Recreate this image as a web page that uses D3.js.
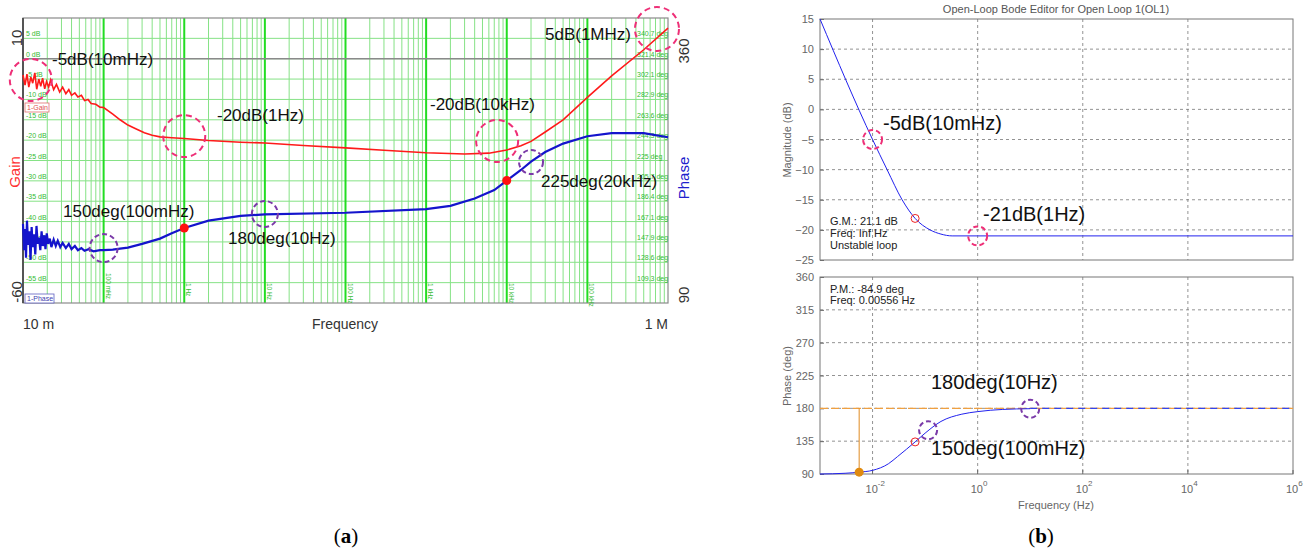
<!DOCTYPE html>
<html>
<head>
<meta charset="utf-8">
<script src="https://cdn.jsdelivr.net/npm/d3@7"></script>
<style>
body { margin: 0; background: #fff; }
svg { display: block; font-family: "Liberation Sans", Arial, sans-serif; }
</style>
</head>
<body>
<div id="chart"></div>
<script>
// ---------- data, panel (a): measured loop ----------
const gainFreq = [0.0100, 0.0106, 0.0112, 0.0118, 0.0125, 0.0132, 0.0140, 0.0148, 0.0157, 0.0166, 0.0175, 0.0186,
  0.0196, 0.0208, 0.0220, 0.0240, 0.0260, 0.0285, 0.031, 0.034, 0.037, 0.040, 0.044, 0.048, 0.053, 0.058, 0.064,
  0.070, 0.080, 0.090, 0.10, 0.13, 0.16, 0.20, 0.25, 0.32, 0.40, 0.50, 0.70, 1, 2, 5, 10, 30, 100, 300, 1000, 3000,
  6000, 10000, 15000, 20000, 30000, 50000, 100000, 200000, 500000, 1000000];
const gainDb = [-4.0, -6.5, -3.8, -7.0, -4.5, -6.0, -3.5, -7.5, -5.0, -6.8, -4.8, -7.4,
  -5.6, -7.0, -5.2, -7.6, -6.3, -8.2, -7.0, -8.6, -7.6, -9.0, -8.4, -9.4, -9.0, -10.3, -10.0,
  -11.0, -11.2, -11.9, -12.0, -13.6, -15.0, -16.3, -17.2, -18.2, -18.8, -19.2, -19.4, -19.6, -20.1, -20.5, -20.7,
  -21.3, -21.9, -22.5, -23.1, -23.4, -23.2, -22.4, -21.4, -20.3, -18.0, -15.0, -9.5, -4.2, 2.2, 7.5];

const phaseFreq = [0.0100, 0.0103, 0.0106, 0.0109, 0.0112, 0.0116, 0.0120, 0.0124, 0.0128, 0.0132, 0.0137, 0.0142,
  0.0147, 0.0152, 0.0158, 0.0164, 0.0170, 0.0176, 0.0183, 0.0190, 0.0197, 0.0205, 0.0215, 0.0225, 0.0240, 0.0255,
  0.0270, 0.0290, 0.031, 0.034, 0.037, 0.040, 0.044, 0.048, 0.053, 0.058, 0.065, 0.075, 0.09, 0.10, 0.13, 0.16,
  0.20, 0.30, 0.50, 0.70, 1, 2, 5, 10, 100, 1000, 2000, 4000, 7000, 10000, 15000, 20000, 30000, 50000, 100000,
  200000, 500000, 1000000];
const phaseDeg = [165, 140, 160, 133, 168, 145, 158, 131, 162, 143, 155, 136,
  163, 146, 152, 140, 158, 144, 154, 141, 156, 146, 151, 143, 150, 144,
  149, 143, 147, 142, 146, 141, 144, 140, 142, 139.5, 141, 139, 140, 140, 140.5, 141.5,
  142.5, 146, 151, 156, 161, 168, 172.5, 174, 175.5, 179, 182, 189, 197, 206, 216, 224, 233, 241, 248,
  251, 251, 247];

const decadeLabels = ['100 mHz', '1 Hz', '10 Hz', '100 Hz', '1 kHz', '10 kHz', '100 kHz'];
const dbTicks = [5, 0, -5, -10, -15, -20, -25, -30, -35, -40, -45, -50, -55];
const degTicks = ['340.7', '321.4', '302.1', '282.9', '263.6', '244.3', '225', '205.7', '186.4', '167.1', '147.9', '128.6', '109.3'];

// annotations on (a): [freq, value, label]
const gainNotes = [[0.0125, -5.2, '-5dB(10mHz)'], [1, -19, '-20dB(1Hz)'], [7600, -20.2, '-20dB(10kHz)'], [730000, 7.3, '5dB(1MHz)']];
const phaseNotes = [[0.1, 142, '150deg(100mHz)'], [10, 174.3, '180deg(10Hz)'], [20000, 223.6, '225deg(20kHz)']];
const phaseDots = [[1, 161], [10000, 206]];

// ---------- data, panel (b): open-loop bode editor ----------
const magFreq = [0.001, 0.01, 0.0189, 0.0365, 0.0646, 0.124, 0.2, 0.327, 1, 100, 1000000];
const magDb = [15, -5, -10, -15, -18.1, -20, -20.7, -21, -21, -21, -21];
const olPhaseFreq = [0.001, 0.003, 0.00556, 0.01, 0.02, 0.03, 0.0646, 0.1, 0.2, 0.5, 1, 3, 10, 100, 1000000];
const olPhaseDeg = [90, 91, 92.5, 95, 104, 114, 134, 146, 162, 172, 175.5, 178.5, 179.5, 180, 180];
const magTicks = [15, 10, 5, 0, -5, -10, -15, -20, -25];
const phTicks = [360, 315, 270, 225, 180, 135, 90];
const freqTicks = [1e-2, 1, 1e2, 1e4, 1e6];

const svg = d3.select('#chart').append('svg')
  .attr('width', 1307)
  .attr('height', 549);

// ================= panel (a) =================
const xA = d3.scaleLog().domain([0.01, 1e6]).range([23, 668]);
const yGain = d3.scaleLinear().domain([-60, 10]).range([303, 18]);
const yPh = d3.scaleLinear().domain([90, 360]).range([303, 18]);

const a = svg.append('g');

const minors = [];
d3.range(-2, 6).forEach(e => d3.range(2, 10).forEach(k => minors.push(k * Math.pow(10, e))));
a.selectAll('.vmin').data(minors).enter().append('line')
  .attr('x1', d => xA(d)).attr('x2', d => xA(d))
  .attr('y1', 18).attr('y2', 303)
  .attr('stroke', '#86e286').attr('stroke-width', 1);

a.selectAll('.hgrid').data(d3.range(-55, 10, 5)).enter().append('line')
  .attr('x1', 23).attr('x2', 668)
  .attr('y1', d => yGain(d)).attr('y2', d => yGain(d))
  .attr('stroke', '#86e286').attr('stroke-width', 1);

const decades = d3.range(-1, 6).map(e => Math.pow(10, e));
a.selectAll('.vmaj').data(decades).enter().append('line')
  .attr('x1', d => xA(d)).attr('x2', d => xA(d))
  .attr('y1', 18).attr('y2', 303)
  .attr('stroke', '#22dd22').attr('stroke-width', 2);

// 0 dB reference and frame
a.append('line').attr('x1', 23).attr('x2', 668).attr('y1', yGain(0)).attr('y2', yGain(0))
  .attr('stroke', '#8a8a8a').attr('stroke-width', 1.5);
a.append('rect').attr('x', 23).attr('y', 18).attr('width', 645).attr('height', 285)
  .attr('fill', 'none').attr('stroke', '#8a8a8a').attr('stroke-width', 1.2);
a.append('line').attr('x1', 23).attr('x2', 23).attr('y1', 18).attr('y2', 303)
  .attr('stroke', '#555').attr('stroke-width', 2);

// small green scale labels
a.selectAll('.dbl').data(dbTicks).enter().append('text')
  .attr('x', 26).attr('y', d => yGain(d) - 2)
  .attr('font-size', 7).attr('fill', '#33bb33')
  .text(d => d + ' dB');
a.selectAll('.degl').data(degTicks).enter().append('text')
  .attr('x', 637).attr('y', (d, i) => yGain(dbTicks[i]) - 2)
  .attr('font-size', 7).attr('fill', '#33bb33')
  .text(d => d + ' deg');
a.selectAll('.decl').data(decadeLabels).enter().append('text')
  .attr('transform', (d, i) => `translate(${xA(decades[i]) + 2},${i == 0 ? 273 : 283}) rotate(90)`)
  .attr('font-size', 6.5).attr('fill', '#33bb33')
  .text(d => d);

// legend boxes
a.append('rect').attr('x', 25).attr('y', 103).attr('width', 24).attr('height', 9)
  .attr('fill', '#fff').attr('stroke', '#e07070').attr('stroke-width', 0.8);
a.append('text').attr('x', 27).attr('y', 110).attr('font-size', 7).attr('fill', '#e05050').text('1-Gain');
a.append('rect').attr('x', 25).attr('y', 294).attr('width', 29).attr('height', 9)
  .attr('fill', '#fff').attr('stroke', '#6060c0').attr('stroke-width', 0.8);
a.append('text').attr('x', 27).attr('y', 301).attr('font-size', 7).attr('fill', '#4040b0').text('1-Phase');

// curves
const gainLine = d3.line().x((d, i) => xA(gainFreq[i])).y(d => yGain(d));
a.append('path').datum(gainDb).attr('d', gainLine)
  .attr('fill', 'none').attr('stroke', '#ff1a1a').attr('stroke-width', 1.6);
const phaseLine = d3.line().x((d, i) => xA(phaseFreq[i])).y(d => yPh(d));
a.append('path').datum(phaseDeg).attr('d', phaseLine)
  .attr('fill', 'none').attr('stroke', '#1414cc').attr('stroke-width', 2.2);

a.selectAll('.pdot').data(phaseDots).enter().append('circle')
  .attr('cx', d => xA(d[0])).attr('cy', d => yPh(d[1])).attr('r', 4.5)
  .attr('fill', '#ff1010');

// dashed annotation circles
a.selectAll('.gc').data(gainNotes).enter().append('circle')
  .attr('cx', d => xA(d[0])).attr('cy', d => yGain(d[1])).attr('r', (d, i) => i == 3 ? 22 : 21)
  .attr('fill', 'none').attr('stroke', '#ee2f77').attr('stroke-width', 2).attr('stroke-dasharray', '6,4');
a.selectAll('.pc').data(phaseNotes).enter().append('circle')
  .attr('cx', d => xA(d[0])).attr('cy', d => yPh(d[1])).attr('r', (d, i) => [14, 13, 12][i])
  .attr('fill', 'none').attr('stroke', '#7a3aa8').attr('stroke-width', 2).attr('stroke-dasharray', '5,3');

// annotation texts
const noteA = [[52, 65], [217, 121], [430, 110], [545, 40], [63, 217], [228, 244], [541, 187]];
a.selectAll('.nt').data(gainNotes.concat(phaseNotes)).enter().append('text')
  .attr('x', (d, i) => noteA[i][0]).attr('y', (d, i) => noteA[i][1])
  .attr('font-size', 17).attr('fill', '#111')
  .text(d => d[2]);

// axis texts of (a)
const rotL = (x, y, t, c, anchor) => a.append('text')
  .attr('transform', `translate(${x},${y}) rotate(-90)`)
  .attr('text-anchor', anchor || 'middle').attr('font-size', 15).attr('fill', c).text(t);
rotL(22, 38, '10', '#333');
rotL(22, 292, '-60', '#333');
rotL(20, 172, 'Gain', '#ff3030');
rotL(689, 51, '360', '#333');
rotL(689, 295, '90', '#333');
rotL(689, 178, 'Phase', '#2020cc');
a.append('text').attr('x', 23).attr('y', 329).attr('font-size', 14).attr('fill', '#333').text('10 m');
a.append('text').attr('x', 345).attr('y', 329).attr('text-anchor', 'middle').attr('font-size', 14).attr('fill', '#333').text('Frequency');
a.append('text').attr('x', 668).attr('y', 329).attr('text-anchor', 'end').attr('font-size', 14).attr('fill', '#333').text('1 M');

// ================= panel (b) =================
const xB = d3.scaleLog().domain([1e-3, 1e6]).range([820, 1293]);
const yMag = d3.scaleLinear().domain([-25, 15]).range([260, 19]);
const yPhB = d3.scaleLinear().domain([90, 360]).range([474, 277]);
const b = svg.append('g');
const grey = '#666';

b.append('text').attr('x', 1056).attr('y', 13).attr('text-anchor', 'middle')
  .attr('font-size', 11).attr('fill', '#555').text('Open-Loop Bode Editor for Open Loop 1(OL1)');

function gridBox(y, ticks, top, bottom) {
  b.selectAll(null).data(ticks.slice(1, -1)).enter().append('line')
    .attr('x1', 820).attr('x2', 1293).attr('y1', d => y(d)).attr('y2', d => y(d))
    .attr('stroke', '#777').attr('stroke-width', 0.8).attr('stroke-dasharray', '3,3');
  b.selectAll(null).data(freqTicks.slice(0, -1)).enter().append('line')
    .attr('x1', d => xB(d)).attr('x2', d => xB(d)).attr('y1', top).attr('y2', bottom)
    .attr('stroke', '#777').attr('stroke-width', 0.8).attr('stroke-dasharray', '3,3');
  const ax = b.append('g').attr('transform', 'translate(820,0)')
    .call(d3.axisLeft(y).tickValues(ticks).tickSize(-4).tickPadding(6));
  ax.select('.domain').remove();
  ax.selectAll('line').attr('stroke', grey);
  ax.selectAll('text').attr('font-size', 11).attr('fill', grey).attr('font-family', '"Liberation Sans", Arial, sans-serif');
  b.append('rect').attr('x', 820).attr('y', top).attr('width', 473).attr('height', bottom - top)
    .attr('fill', 'none').attr('stroke', '#777').attr('stroke-width', 1);
}
gridBox(yMag, magTicks, 19, 260);
gridBox(yPhB, phTicks, 277, 474);

// x ticks with exponents
const xt = b.selectAll('.xt').data(freqTicks).enter().append('text')
  .attr('x', d => xB(d) - 7).attr('y', 493)
  .attr('font-size', 11).attr('fill', grey);
xt.append('tspan').text('10');
xt.append('tspan').attr('dy', -7).attr('font-size', 8).text(d => Math.round(Math.log10(d)));
b.selectAll('.xtk').data(freqTicks).enter().append('line')
  .attr('x1', d => xB(d)).attr('x2', d => xB(d)).attr('y1', 474).attr('y2', 470).attr('stroke', grey);

b.append('text').attr('x', 1056).attr('y', 509).attr('text-anchor', 'middle')
  .attr('font-size', 11).attr('fill', grey).text('Frequency (Hz)');
b.append('text').attr('transform', 'translate(791,140) rotate(-90)').attr('text-anchor', 'middle')
  .attr('font-size', 11).attr('fill', grey).text('Magnitude (dB)');
b.append('text').attr('transform', 'translate(791,376) rotate(-90)').attr('text-anchor', 'middle')
  .attr('font-size', 11).attr('fill', grey).text('Phase (deg)');

// magnitude
const magLine = d3.line().x((d, i) => xB(magFreq[i])).y(d => yMag(d)).curve(d3.curveMonotoneX);
b.append('path').datum(magDb).attr('d', magLine)
  .attr('fill', 'none').attr('stroke', '#2222ee').attr('stroke-width', 1);
b.append('circle').attr('cx', xB(0.0646)).attr('cy', yMag(-18.1)).attr('r', 4)
  .attr('fill', 'none').attr('stroke', '#ee2222').attr('stroke-width', 1);

['G.M.: 21.1 dB', 'Freq: Inf Hz', 'Unstable loop'].forEach((t, i) =>
  b.append('text').attr('x', 830).attr('y', 225 + i * 12).attr('font-size', 11).attr('fill', '#222').text(t));
['P.M.: -84.9 deg', 'Freq: 0.00556 Hz'].forEach((t, i) =>
  b.append('text').attr('x', 830).attr('y', 293 + i * 11).attr('font-size', 11).attr('fill', '#222').text(t));

// phase with margin markers
b.append('line').attr('x1', 820).attr('x2', xB(10)).attr('y1', yPhB(180)).attr('y2', yPhB(180))
  .attr('stroke', '#f0a040').attr('stroke-width', 1.2).attr('stroke-dasharray', '8,3');
b.append('line').attr('x1', xB(10)).attr('x2', 1293).attr('y1', yPhB(180)).attr('y2', yPhB(180))
  .attr('stroke', '#f0a040').attr('stroke-width', 1.2);
b.append('line').attr('x1', xB(0.00556)).attr('x2', xB(0.00556)).attr('y1', yPhB(92.5)).attr('y2', yPhB(180))
  .attr('stroke', '#e08a20').attr('stroke-width', 1);
const phLineB = d3.line().x((d, i) => xB(olPhaseFreq[i])).y(d => yPhB(d)).curve(d3.curveMonotoneX);
const idx10 = olPhaseFreq.indexOf(10);
b.append('path').datum(olPhaseDeg.map((d, i) => i <= idx10 ? d : null))
  .attr('d', phLineB.defined(d => d != null))
  .attr('fill', 'none').attr('stroke', '#2222ee').attr('stroke-width', 1);
b.append('line').attr('x1', xB(10)).attr('x2', 1293).attr('y1', yPhB(180)).attr('y2', yPhB(180))
  .attr('stroke', '#3344ee').attr('stroke-width', 1.3).attr('stroke-dasharray', '7,5');
b.append('circle').attr('cx', xB(0.00556)).attr('cy', yPhB(92.5)).attr('r', 4.5).attr('fill', '#e08a10');
b.append('circle').attr('cx', xB(0.0646)).attr('cy', yPhB(134)).attr('r', 4)
  .attr('fill', 'none').attr('stroke', '#ee2222').attr('stroke-width', 1);

// dashed circles and labels on (b)
const magNotes = [[0.01, -5, '-5dB(10mHz)', 883, 130], [1, -21, '-21dB(1Hz)', 983, 221]];
const phNotes = [[0.114, 150, '150deg(100mHz)', 931, 455], [10, 179.5, '180deg(10Hz)', 931, 389]];
b.selectAll('.mc').data(magNotes).enter().append('circle')
  .attr('cx', d => xB(d[0])).attr('cy', d => yMag(d[1])).attr('r', 9.5)
  .attr('fill', 'none').attr('stroke', '#ee2f77').attr('stroke-width', 2).attr('stroke-dasharray', '5,3');
b.selectAll('.pcb').data(phNotes).enter().append('circle')
  .attr('cx', d => xB(d[0])).attr('cy', d => yPhB(d[1])).attr('r', 9)
  .attr('fill', 'none').attr('stroke', '#7a3aa8').attr('stroke-width', 2).attr('stroke-dasharray', '5,3');
b.selectAll('.nb').data(magNotes.concat(phNotes)).enter().append('text')
  .attr('x', d => d[3]).attr('y', d => d[4])
  .attr('font-size', 20).attr('fill', '#111').text(d => d[2]);

// captions
[['a', 346], ['b', 1041]].forEach(c => {
  const t = svg.append('text').attr('x', c[1]).attr('y', 543).attr('text-anchor', 'middle')
    .attr('font-family', '"Liberation Serif", serif').attr('font-size', 21).attr('fill', '#000');
  t.append('tspan').text('(');
  t.append('tspan').attr('font-weight', 'bold').text(c[0]);
  t.append('tspan').text(')');
});
</script>
</body>
</html>
